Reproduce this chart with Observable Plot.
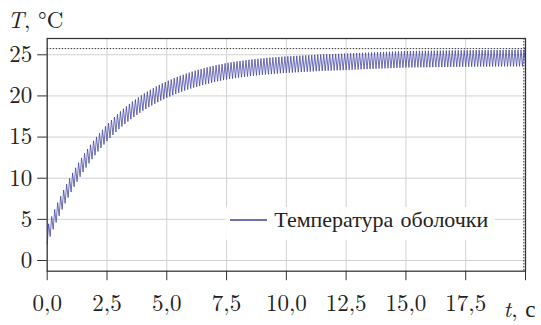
<!DOCTYPE html>
<html>
<head>
<meta charset="utf-8">
<script src="https://cdn.jsdelivr.net/npm/d3@7"></script>
<script src="https://cdn.jsdelivr.net/npm/@observablehq/plot@0.6"></script>
<style>
  html, body { margin: 0; padding: 0; background: #fff; }
</style>
</head>
<body>
<script>
// ---- data ----
const sampleStep = 0.0625; // time between successive turning points, s
const troughs = [
  2.00,2.91,3.79,4.63,5.43,6.20,6.94,7.64,8.32,8.96,9.58,10.18,10.75,11.29,11.81,12.31,12.79,13.25,13.68,14.10,
  14.51,14.89,15.26,15.61,15.95,16.28,16.59,16.88,17.17,17.44,17.70,17.95,18.19,18.42,18.64,18.85,19.05,19.24,19.43,19.60,
  19.77,19.93,20.09,20.24,20.38,20.51,20.65,20.77,20.89,21.01,21.12,21.22,21.32,21.42,21.51,21.60,21.69,21.77,21.84,21.92,
  21.99,22.05,22.11,22.17,22.22,22.27,22.32,22.37,22.41,22.45,22.49,22.53,22.56,22.60,22.63,22.66,22.69,22.72,22.75,22.78,
  22.80,22.82,22.84,22.86,22.88,22.90,22.92,22.94,22.96,22.98,23.00,23.02,23.04,23.05,23.07,23.08,23.10,23.11,23.12,23.14,
  23.15,23.17,23.18,23.20,23.21,23.23,23.24,23.26,23.27,23.29,23.30,23.32,23.33,23.35,23.36,23.38,23.39,23.41,23.42,23.44,
  23.45,23.46,23.46,23.47,23.47,23.48,23.48,23.49,23.49,23.50,23.50,23.51,23.51,23.52,23.52,23.53,23.53,23.54,23.54,23.55,
  23.55,23.55,23.56,23.56,23.56,23.57,23.57,23.57,23.57,23.58,23.58,23.58,23.58,23.59,23.59,23.59,23.59,23.60,23.60,23.60,
  23.60
];
const peaks = [
  4.46,5.35,6.21,7.03,7.82,8.57,9.29,9.98,10.64,11.27,11.88,12.47,13.02,13.55,14.06,14.55,15.02,15.47,15.89,16.31,
  16.70,17.08,17.44,17.78,18.12,18.44,18.74,19.03,19.31,19.57,19.83,20.07,20.31,20.53,20.75,20.95,21.15,21.34,21.52,21.69,
  21.85,22.01,22.17,22.31,22.45,22.58,22.71,22.83,22.95,23.07,23.17,23.27,23.37,23.47,23.56,23.65,23.73,23.81,23.88,23.96,
  24.02,24.08,24.14,24.20,24.25,24.30,24.35,24.39,24.43,24.47,24.51,24.55,24.58,24.62,24.65,24.68,24.71,24.74,24.77,24.79,
  24.81,24.83,24.85,24.87,24.89,24.91,24.93,24.95,24.97,24.99,25.01,25.03,25.05,25.06,25.08,25.09,25.11,25.12,25.13,25.15,
  25.16,25.18,25.19,25.21,25.22,25.24,25.25,25.27,25.28,25.30,25.31,25.33,25.34,25.36,25.37,25.39,25.40,25.42,25.43,25.45,
  25.46,25.46,25.47,25.47,25.48,25.48,25.49,25.49,25.50,25.50,25.51,25.51,25.52,25.52,25.53,25.53,25.54,25.54,25.55,25.55,
  25.55,25.56,25.56,25.56,25.57,25.57,25.57,25.57,25.58,25.58,25.58,25.58,25.59,25.59,25.59,25.59,25.60,25.60,25.60,25.60
];
const xTicks = [0, 2.5, 5, 7.5, 10, 12.5, 15, 17.5, 20];
const yTicks = [0, 5, 10, 15, 20, 25];
const refLevel = [25.75];   // horizontal dotted line, °C
const refTime = [19.93];    // vertical dotted line, s
const seriesName = "Температура оболочки";

// ---- build the table ----
const series = [];
for (let k = 0; k < troughs.length; k++) {
  series.push({t: 2 * k * sampleStep, T: troughs[k]});
  if (k < peaks.length) series.push({t: (2 * k + 1) * sampleStep, T: peaks[k]});
}

const lineColor = "#3f3fa0";
const ff = "'Latin Modern Roman', 'Liberation Serif', serif";
const fmtX = d => d === 20 ? "" : d.toFixed(1).replace(".", ",");

const chart = Plot.plot({
  width: 541,
  height: 325,
  marginLeft: 46.7,
  marginRight: 16,
  marginTop: 38,
  marginBottom: 54.3,
  style: {fontFamily: ff, fontSize: "23px", color: "#222", background: "#fff"},
  x: {domain: [0, 20]},
  y: {domain: [-1.3, 26.98]},
  marks: [
    Plot.gridX(xTicks, {stroke: "#d2d2d2", strokeOpacity: 1, strokeWidth: 1}),
    Plot.gridY(yTicks, {stroke: "#d2d2d2", strokeOpacity: 1, strokeWidth: 1}),
    Plot.ruleY(refLevel, {stroke: "#333", strokeWidth: 1, strokeDasharray: "1.5,1.5"}),
    Plot.ruleX(refTime, {stroke: "#333", strokeWidth: 1, strokeDasharray: "1.5,1.5"}),
    Plot.line(series, {x: "t", y: "T", stroke: lineColor, strokeWidth: 0.75}),
    Plot.frame({stroke: "#333", strokeWidth: 1.25}),
    Plot.axisX({ticks: xTicks, tickSize: 9.5, tickPadding: 13.5, tickFormat: fmtX, label: null, stroke: "#333"}),
    Plot.axisY({ticks: yTicks, tickSize: 9.5, tickPadding: 5.5, tickFormat: d => String(d), label: null, stroke: "#333"})
  ]
});

document.body.appendChild(chart);

// ---- axis titles and legend ----
const svg = d3.select(chart);

const yt = svg.append("text").attr("x", 7.5).attr("y", 28.3).attr("text-anchor", "start")
  .attr("font-size", 23).attr("fill", "#222");
yt.append("tspan").attr("font-style", "italic").text("T");
yt.append("tspan").text(", °C");

const xt = svg.append("text").attr("x", 503.5).attr("y", 316.5).attr("text-anchor", "start")
  .attr("font-size", 23).attr("fill", "#222");
xt.append("tspan").attr("font-style", "italic").text("t");
xt.append("tspan").text(", с");

const lg = svg.append("g");
lg.append("rect").attr("x", 225).attr("y", 207).attr("width", 270).attr("height", 33)
  .attr("rx", 3).attr("fill", "#fff").attr("fill-opacity", 0.9).attr("stroke", "none");
lg.append("line").attr("x1", 230).attr("x2", 267).attr("y1", 220).attr("y2", 220)
  .attr("stroke", lineColor).attr("stroke-width", 1.5);
const lgText = lg.append("text").attr("x", 274.3).attr("y", 227.3).attr("text-anchor", "start")
  .attr("font-size", 21).attr("fill", "#222").text(seriesName);

// force the serif face on every text element
svg.selectAll("text").each(function() { this.style.setProperty("font-family", ff, "important"); });

// fit legend label to the reference width (about 214 px)
const w = lgText.node().getComputedTextLength();
if (w > 0) lgText.attr("font-size", Math.max(16, Math.min(24, 21 * 214 / w)));
</script>
</body>
</html>
